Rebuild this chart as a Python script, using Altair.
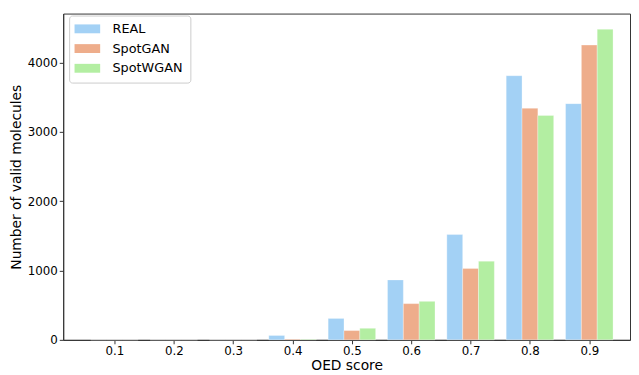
import altair as alt
import pandas as pd

bins = [0.1, 0.2, 0.3, 0.4, 0.5, 0.6, 0.7, 0.8, 0.9]
series = ["REAL", "SpotGAN", "SpotWGAN"]
real = [0, 0, 0, 63, 309, 865, 1520, 3813, 3410]
spotgan = [0, 0, 0, 10, 134, 523, 1031, 3343, 4255]
spotwgan = [0, 0, 0, 10, 167, 556, 1135, 3239, 4483]
colors = ["#A3D1F5", "#EEAD8B", "#B3EEA2"]

rows = []
for si, (name, vals) in enumerate(zip(series, [real, spotgan, spotwgan])):
    for b, v in zip(bins, vals):
        rows.append({"bin": b, "series": name, "idx": si, "count": v})
df = pd.DataFrame(rows)

gw = 0.08
common = dict(grid=False, labelFontSize=12, titleFontSize=14, titleFontWeight="normal",
              labelColor="black", titleColor="black", domainColor="#333",
              tickColor="#333", tickSize=4, labelPadding=2,
              labelFont="DejaVu Sans", titleFont="DejaVu Sans")
chart = alt.Chart(df).transform_calculate(
    x0=f"datum.bin - {gw/2} + datum.idx * {gw/3}",
    x1=f"datum.bin - {gw/2} + (datum.idx + 1) * {gw/3}",
).mark_bar(stroke="white", strokeWidth=0.5, strokeOpacity=0.6).encode(
    x=alt.X("x0:Q", scale=alt.Scale(domain=[0.0136, 0.9686], nice=False, zero=False),
            axis=alt.Axis(values=bins, format=".1f", title="OED score",
                          titlePadding=2, **common)),
    x2="x1:Q",
    y=alt.Y("count:Q", scale=alt.Scale(domain=[0, 4710], nice=False),
            axis=alt.Axis(values=[0, 1000, 2000, 3000, 4000], format="d",
                          title="Number of valid molecules", titlePadding=4, **common)),
    y2=alt.datum(0),
    color=alt.Color("series:N", scale=alt.Scale(domain=series, range=colors),
                    legend=alt.Legend(title=None, orient="none", legendX=6, legendY=2,
                                      symbolType="M-2.6,-0.9H2.6V0.9H-2.6Z",
                                      symbolSize=100, symbolStrokeWidth=0,
                                      symbolOffset=5,
                                      labelFontSize=13, labelFont="DejaVu Sans",
                                      labelColor="black", rowPadding=6,
                                      strokeColor="#ccc", fillColor="white",
                                      cornerRadius=3, padding=7, labelOffset=19)),
    order=alt.Order("idx:Q"),
).properties(
    width=575, height=331,
    autosize=alt.AutoSizeParams(type="none"),
    padding={"left": 56, "top": 3, "right": 1, "bottom": 33},
).configure_view(stroke="#333", strokeWidth=1)

chart.save("out.html", embed_options={"renderer": "svg", "actions": False})
